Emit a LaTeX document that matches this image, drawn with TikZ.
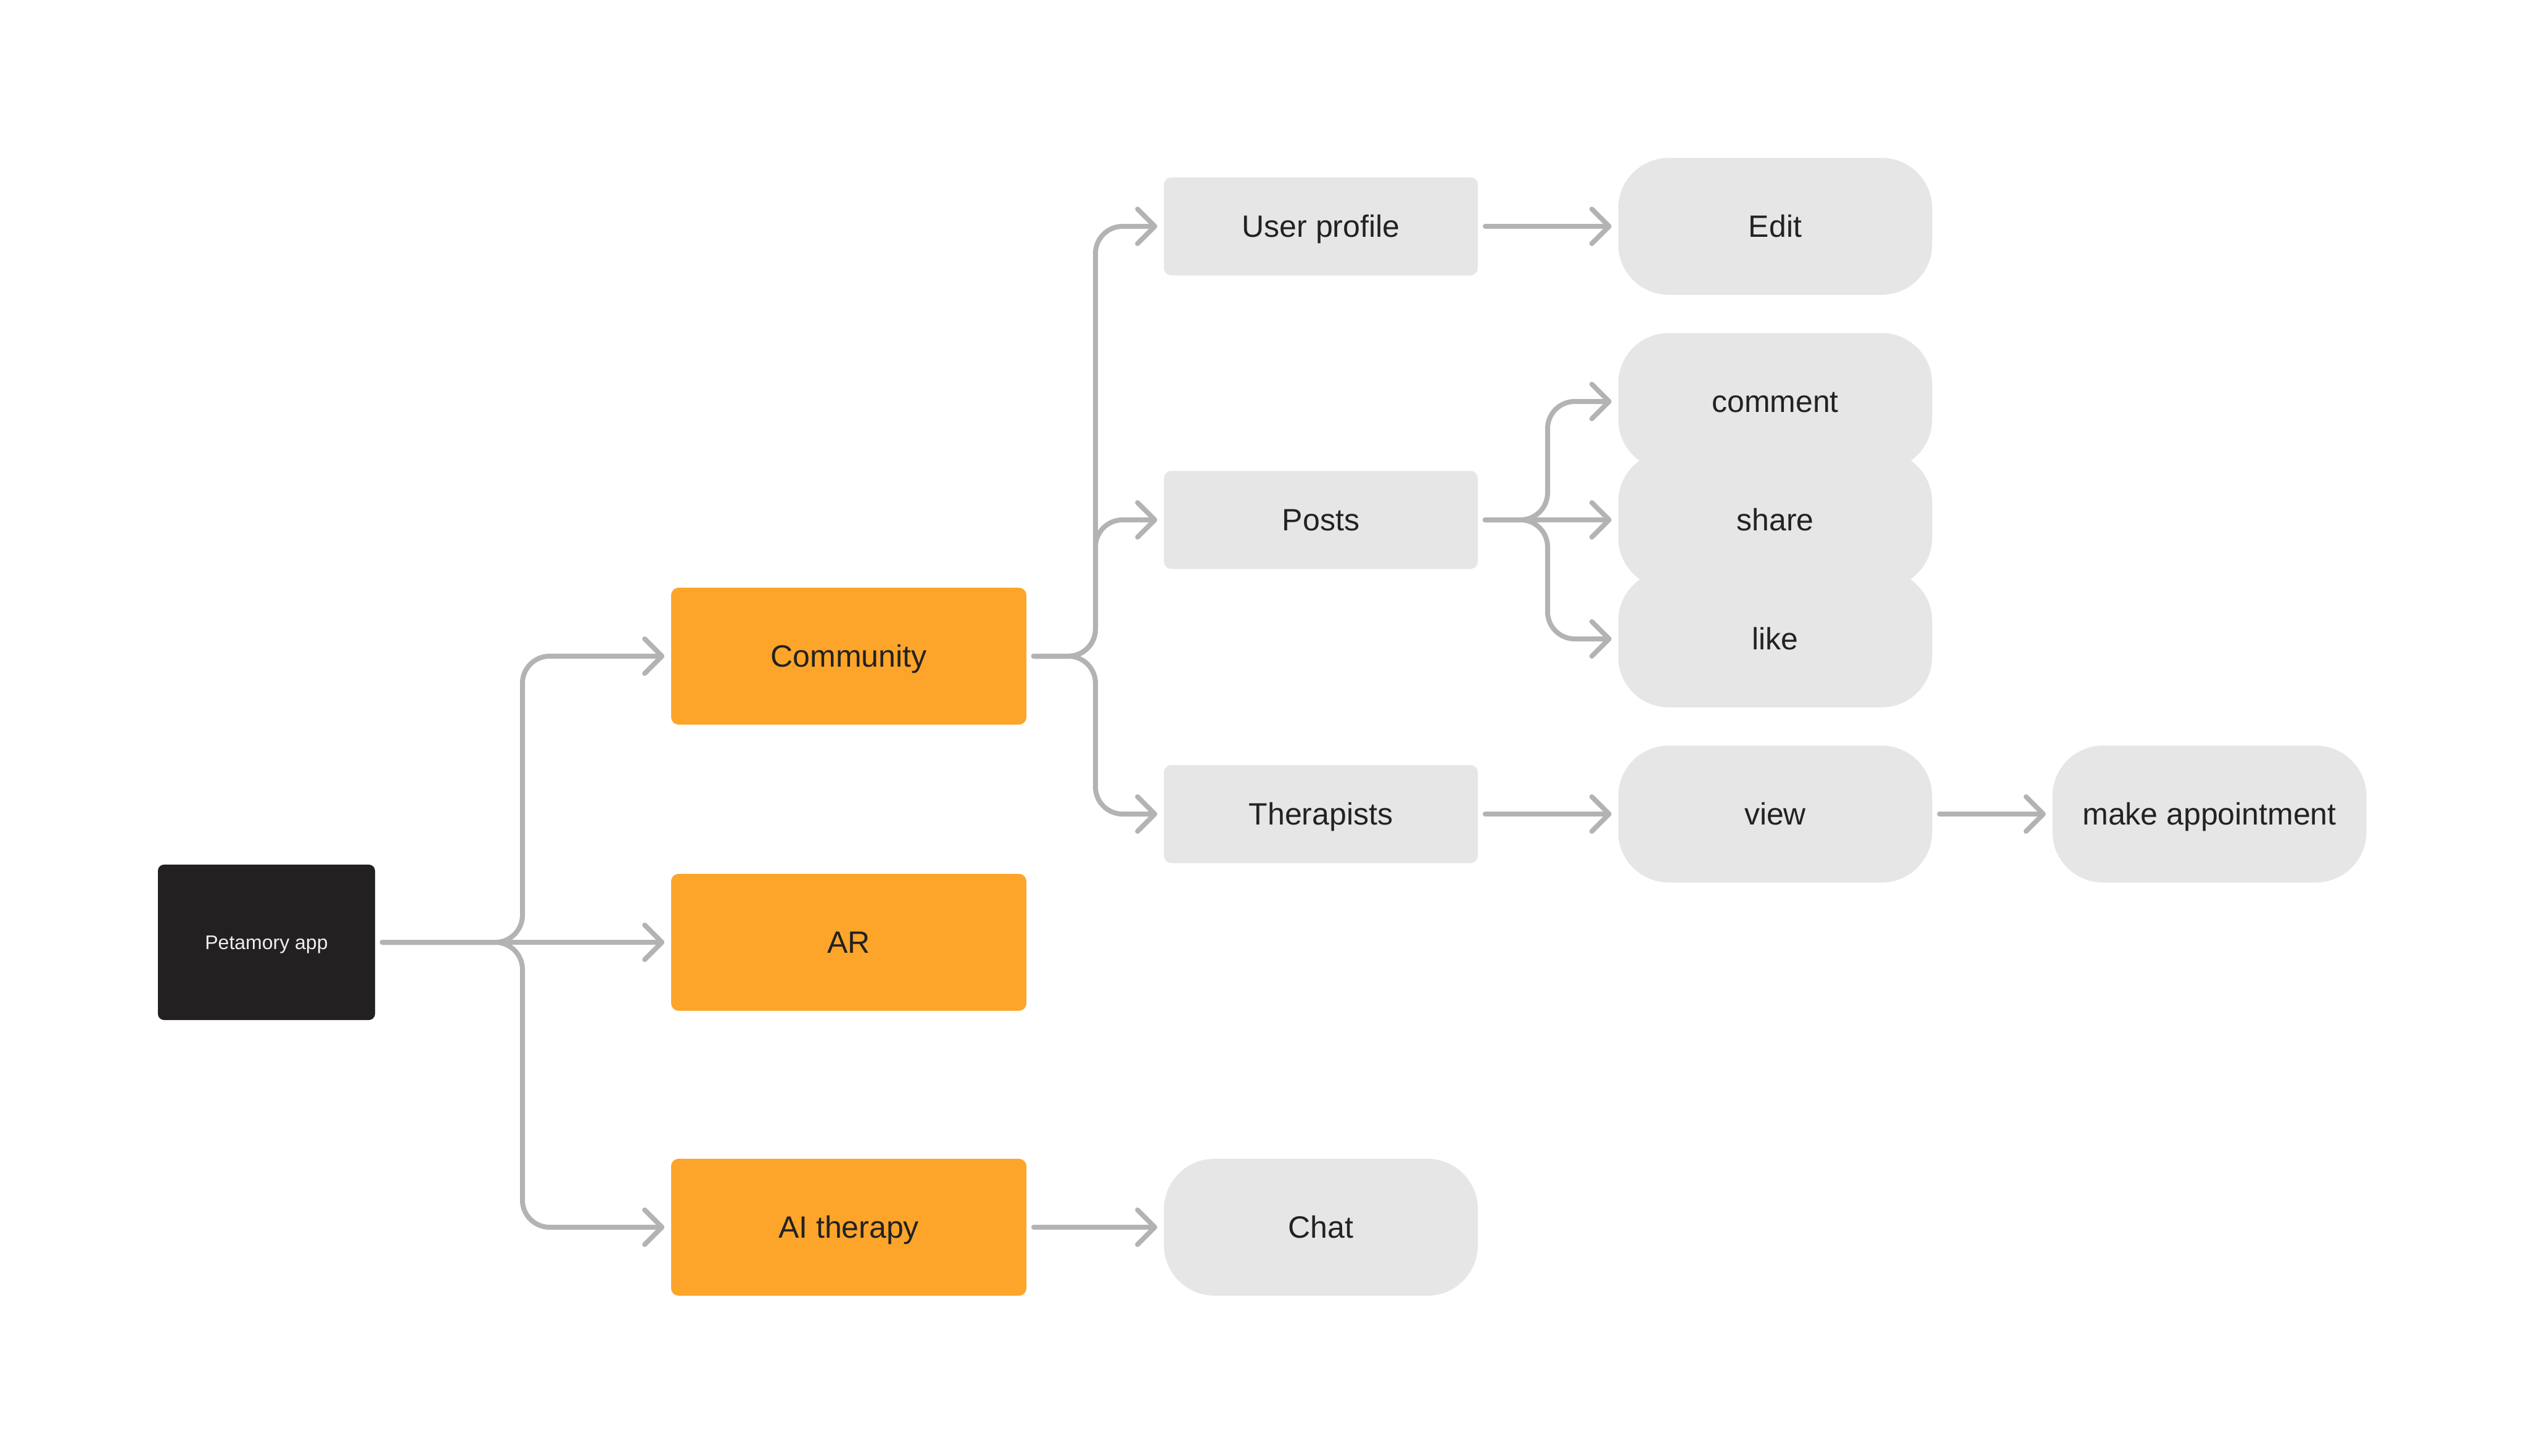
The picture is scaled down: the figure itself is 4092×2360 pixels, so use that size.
\documentclass[tikz,border=0pt]{standalone}
\usepackage{fontspec}
\setmainfont{Liberation Sans}
\usetikzlibrary{arrows.meta}
\definecolor{orng}{HTML}{FDA52A}
\definecolor{boxgray}{HTML}{E6E6E6}
\definecolor{linegray}{HTML}{B3B3B3}
\definecolor{darkbox}{HTML}{222020}
\definecolor{txt}{HTML}{222222}
\definecolor{rtxt}{HTML}{EEEEEE}
\begin{document}
\begin{tikzpicture}[x=0.25pt,y=-0.25pt,
 base/.style={inner sep=0pt, font=\fontsize{12.5pt}{15pt}\selectfont, text=txt, text height=8.95pt, text depth=0pt},
 rootbox/.style={base, fill=darkbox, rounded corners=2.5pt, minimum width=88pt, minimum height=63pt, text=rtxt, font=\fontsize{8pt}{10pt}\selectfont, text height=5.73pt},
 mainbox/.style={base, fill=orng, rounded corners=3pt, minimum width=144pt, minimum height=55.5pt},
 subbox/.style={base, fill=boxgray, rounded corners=3pt, minimum width=127.25pt, minimum height=39.75pt},
 pillbox/.style={base, fill=boxgray, rounded corners=20.5pt, minimum width=127.25pt, minimum height=55.5pt},
 conn/.style={draw=linegray, line width=2pt, line cap=round, line join=round, rounded corners=11pt, shorten <=2.75pt, shorten >=2.5pt, -{Straight Barb[length=7pt,width=14pt,round]}}
]
\useasboundingbox[fill=white] (0,0) rectangle (4092,2360);

\node[rootbox] (pet) at (432,1528) {Petamory app};

\node[mainbox] (comm) at (1376,1064) {Community};
\node[mainbox] (ar) at (1376,1528) {AR};
\node[mainbox] (ai) at (1376,1990) {AI therapy};

\node[subbox] (user) at (2141.5,367) {User profile};
\node[subbox] (posts) at (2141.5,843) {Posts};
\node[subbox] (ther) at (2141.5,1320) {Therapists};
\node[pillbox] (chat) at (2141.5,1990) {Chat};

\node[pillbox] (edit) at (2878,367) {Edit};
\node[pillbox] (comment) at (2878,651) {comment};
\node[pillbox] (share) at (2878,843) {share};
\node[pillbox] (like) at (2878,1036) {like};
\node[pillbox] (view) at (2878,1320) {view};
\node[pillbox] (appt) at (3582,1320) {make appointment};

\coordinate (tA) at (847,0);
\coordinate (tB) at (1776,0);
\coordinate (tC) at (2509,0);

\draw[conn] (pet.east) -- (pet.east -| tA) |- (comm.west);
\draw[conn] (pet.east) -- (ar.west);
\draw[conn] (pet.east) -- (pet.east -| tA) |- (ai.west);

\draw[conn] (comm.east) -- (comm.east -| tB) |- (user.west);
\draw[conn] (comm.east) -- (comm.east -| tB) |- (posts.west);
\draw[conn] (comm.east) -- (comm.east -| tB) |- (ther.west);
\draw[conn] (ai.east) -- (chat.west);

\draw[conn] (user.east) -- (edit.west);
\draw[conn] (posts.east) -- (posts.east -| tC) |- (comment.west);
\draw[conn] (posts.east) -- (share.west);
\draw[conn] (posts.east) -- (posts.east -| tC) |- (like.west);
\draw[conn] (ther.east) -- (view.west);
\draw[conn] (view.east) -- (appt.west);
\end{tikzpicture}
\end{document}
